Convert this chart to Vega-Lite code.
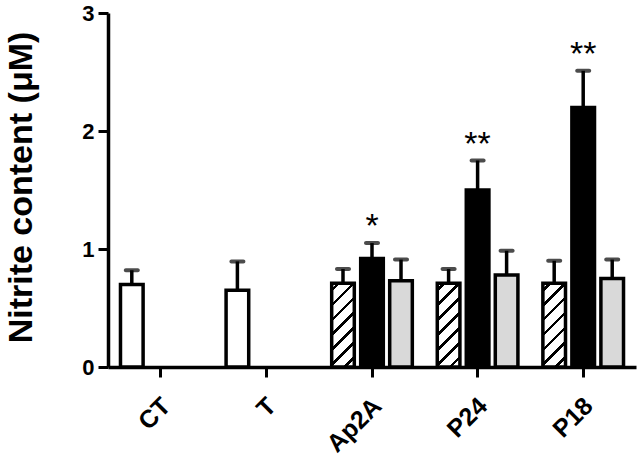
{
  "$schema": "https://vega.github.io/schema/vega-lite/v6.json",
  "width": 528,
  "height": 354,
  "autosize": "none",
  "padding": {"left": 108, "top": 13, "right": 4, "bottom": 96},
  "background": "white",
  "config": {
    "view": {"stroke": null},
    "font": "Liberation Sans",
    "axis": {
      "domainColor": "black", "domainWidth": 3.5, "tickColor": "black", "tickWidth": 3, "tickSize": 10,
      "labelFont": "Liberation Sans", "labelFontWeight": "bold", "labelColor": "black",
      "titleFont": "Liberation Sans", "titleFontWeight": "bold", "titleColor": "black", "grid": false
    }
  },
  "data": {
    "values": [
      {"group": "CT", "pos": "1", "series": "S0", "mean": 0.70, "upper": 0.82, "sig": ""},
      {"group": "T", "pos": "1", "series": "S0", "mean": 0.65, "upper": 0.895, "sig": ""},
      {"group": "Ap2A", "pos": "1", "series": "S1", "mean": 0.71, "upper": 0.83, "sig": ""},
      {"group": "Ap2A", "pos": "2", "series": "S2", "mean": 0.92, "upper": 1.05, "sig": "*"},
      {"group": "Ap2A", "pos": "3", "series": "S3", "mean": 0.73, "upper": 0.91, "sig": ""},
      {"group": "P24", "pos": "1", "series": "S1", "mean": 0.71, "upper": 0.83, "sig": ""},
      {"group": "P24", "pos": "2", "series": "S2", "mean": 1.50, "upper": 1.75, "sig": "**"},
      {"group": "P24", "pos": "3", "series": "S3", "mean": 0.78, "upper": 0.985, "sig": ""},
      {"group": "P18", "pos": "1", "series": "S1", "mean": 0.71, "upper": 0.90, "sig": ""},
      {"group": "P18", "pos": "2", "series": "S2", "mean": 2.20, "upper": 2.51, "sig": "**"},
      {"group": "P18", "pos": "3", "series": "S3", "mean": 0.75, "upper": 0.91, "sig": ""}
    ]
  },
  "encoding": {
    "x": {
      "field": "group", "type": "nominal", "sort": ["CT", "T", "Ap2A", "P24", "P18"],
      "scale": {"paddingInner": 0.176, "paddingOuter": 0.088},
      "axis": {"title": null, "labelAngle": -45, "labelFontSize": 25, "labelPadding": 16, "labelOffset": -3}
    },
    "xOffset": {
      "field": "pos", "type": "nominal",
      "scale": {"domain": ["1", "2", "3"], "paddingInner": 0.22, "paddingOuter": 0.11}
    }
  },
  "layer": [
    {
      "transform": [{"filter": "datum.series !== 'S1'"}],
      "mark": {"type": "bar", "stroke": "black", "strokeWidth": 3.5},
      "encoding": {
        "y": {
          "field": "mean", "type": "quantitative",
          "scale": {"domain": [0, 3], "nice": false},
          "axis": {"values": [0, 1, 2, 3], "format": "d", "title": "Nitrite content (\u03bcM)", "labelFontSize": 22, "titleFontSize": 34,
                   "labelPadding": 4, "titleX": -87, "titleY": 174, "titleAlign": "center", "titleBaseline": "middle", "titleAngle": -90}
        },
        "color": {
          "field": "series", "type": "nominal", "legend": null,
          "scale": {"domain": ["S0", "S2", "S3"], "range": ["white", "black", "#d9d9d9"]}
        }
      }
    },
    {
      "transform": [{"filter": "datum.series === 'S1'"}],
      "mark": {
        "type": "bar", "stroke": "black", "strokeWidth": 3.5,
        "fill": {
          "gradient": "linear", "x1": 0, "y1": 0, "x2": 0.32, "y2": 1.184,
          "stops": [
            {"offset": 0, "color": "white"},
            {"offset": 0.05, "color": "white"}, {"offset": 0.05, "color": "black"}, {"offset": 0.085, "color": "black"}, {"offset": 0.085, "color": "white"},
            {"offset": 0.19, "color": "white"}, {"offset": 0.19, "color": "black"}, {"offset": 0.225, "color": "black"}, {"offset": 0.225, "color": "white"},
            {"offset": 0.33, "color": "white"}, {"offset": 0.33, "color": "black"}, {"offset": 0.365, "color": "black"}, {"offset": 0.365, "color": "white"},
            {"offset": 0.47, "color": "white"}, {"offset": 0.47, "color": "black"}, {"offset": 0.505, "color": "black"}, {"offset": 0.505, "color": "white"},
            {"offset": 0.61, "color": "white"}, {"offset": 0.61, "color": "black"}, {"offset": 0.645, "color": "black"}, {"offset": 0.645, "color": "white"},
            {"offset": 0.75, "color": "white"}, {"offset": 0.75, "color": "black"}, {"offset": 0.785, "color": "black"}, {"offset": 0.785, "color": "white"},
            {"offset": 0.89, "color": "white"}, {"offset": 0.89, "color": "black"}, {"offset": 0.925, "color": "black"}, {"offset": 0.925, "color": "white"},
            {"offset": 1, "color": "white"}
          ]
        }
      },
      "encoding": {
        "y": {"field": "mean", "type": "quantitative"}
      }
    },
    {
      "mark": {"type": "rule", "color": "black", "strokeWidth": 3.5},
      "encoding": {
        "y": {"field": "mean", "type": "quantitative"},
        "y2": {"field": "upper"}
      }
    },
    {
      "mark": {"type": "tick", "color": "black", "thickness": 4, "size": 16, "cornerRadius": 2},
      "encoding": {
        "y": {"field": "upper", "type": "quantitative"}
      }
    },
    {
      "transform": [{"filter": "datum.sig !== ''"}],
      "mark": {"type": "text", "fontSize": 34, "color": "black", "baseline": "alphabetic", "dy": -6},
      "encoding": {
        "y": {"field": "upper", "type": "quantitative"},
        "text": {"field": "sig"}
      }
    }
  ]
}
